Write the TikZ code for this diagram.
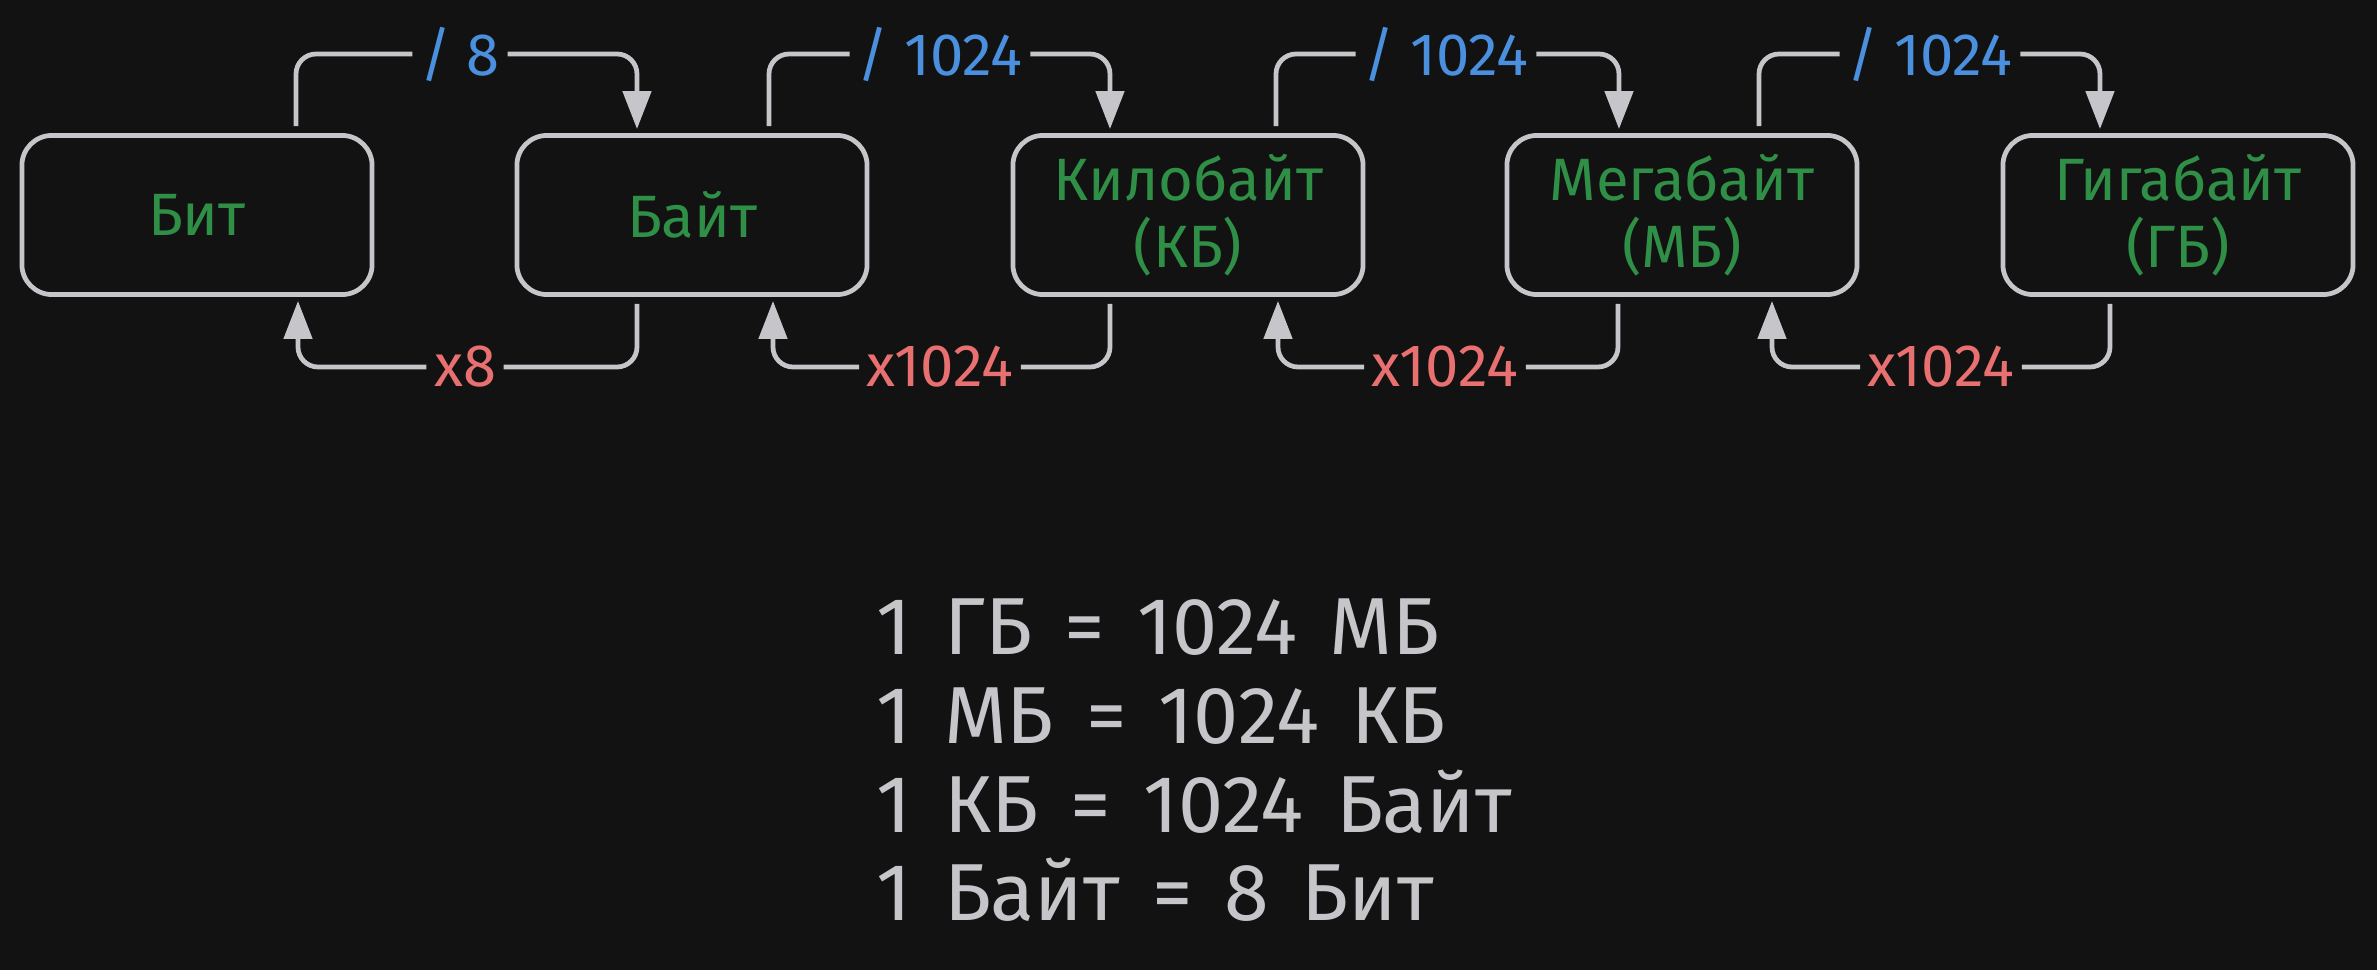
\documentclass[tikz,border=0pt]{standalone}
\usepackage{fontspec}
\setmainfont{Fira Sans}
\usetikzlibrary{arrows.meta,positioning}

\definecolor{bgdark}{HTML}{121212}
\definecolor{edgegray}{HTML}{C6C6CA}
\definecolor{unitgreen}{HTML}{2F8F46}
\definecolor{divblue}{HTML}{4A90DE}
\definecolor{mulred}{HTML}{E87070}
\newcommand{\rulesfont}{\fontsize{23}{25}\selectfont\spaceskip=0.4em\relax}

\begin{document}
\begin{tikzpicture}[x=0.01cm,y=-0.01cm]

    \tikzset{unitbox/.style={draw=edgegray,line width=1.35pt,rounded corners=0.3cm,
        minimum width=3.5cm,minimum height=1.59cm,align=center,text=unitgreen,
        font=\fontsize{17}{19}\selectfont}}
    \tikzset{divlabel/.style={text=divblue,inner sep=2pt,font=\fontsize{17}{19}\selectfont}}
    \tikzset{mullabel/.style={text=mulred,inner sep=2pt,font=\fontsize{17}{19}\selectfont}}
    \tikzset{ruletext/.style={anchor=base west,inner sep=0pt,text=edgegray,font=\rulesfont}}

    \fill[bgdark] (0,0) rectangle (2377,970);
    \useasboundingbox (0,0) rectangle (2377,970);

    \node[unitbox] (bit) at ( 197,215) {Бит};
    \node[unitbox] (byte) at ( 692,215) {Байт};
    \node[unitbox] (kb) at (1188,215) {Килобайт\\(КБ)};
    \node[unitbox] (mb) at (1682,215) {Мегабайт\\(МБ)};
    \node[unitbox] (gb) at (2178,215) {Гигабайт\\(ГБ)};

    \node[divlabel] (d8) at ( 460,54) {/ 8};
    \node[divlabel] (d1) at ( 940,54) {/ 1024};
    \node[divlabel] (d2) at (1446,54) {/ 1024};
    \node[divlabel] (d3) at (1930,54) {/ 1024};

    \node[mullabel] (m8) at ( 465,367) {x8};
    \node[mullabel] (m1) at ( 940,367) {x1024};
    \node[mullabel] (m2) at (1445,367) {x1024};
    \node[mullabel] (m3) at (1941,367) {x1024};

    \begin{scope}[every path/.style={draw=edgegray,line width=1.35pt,rounded corners=0.2cm}]
        % to the bigger unit
        \draw ([shift={(99,-7)}]bit.north) |- (d8.west);
        \draw[-{Triangle[length=0.38cm,width=0.28cm]}] (d8.east) -| ([shift={(-55,-4)}]byte.north);
        \draw ([shift={(77,-7)}]byte.north) |- (d1.west);
        \draw[-{Triangle[length=0.38cm,width=0.28cm]}] (d1.east) -| ([shift={(-78,-4)}]kb.north);
        \draw ([shift={(88,-7)}]kb.north) |- (d2.west);
        \draw[-{Triangle[length=0.38cm,width=0.28cm]}] (d2.east) -| ([shift={(-63,-4)}]mb.north);
        \draw ([shift={(77,-7)}]mb.north) |- (d3.west);
        \draw[-{Triangle[length=0.38cm,width=0.28cm]}] (d3.east) -| ([shift={(-78,-4)}]gb.north);

        % back to the smaller unit
        \draw ([shift={(-55,7)}]byte.south) |- (m8.east);
        \draw[-{Triangle[length=0.38cm,width=0.28cm]}] (m8.west) -| ([shift={(101,4)}]bit.south);
        \draw ([shift={(-78,7)}]kb.south) |- (m1.east);
        \draw[-{Triangle[length=0.38cm,width=0.28cm]}] (m1.west) -| ([shift={(81,4)}]byte.south);
        \draw ([shift={(-64,7)}]mb.south) |- (m2.east);
        \draw[-{Triangle[length=0.38cm,width=0.28cm]}] (m2.west) -| ([shift={(90,4)}]kb.south);
        \draw ([shift={(-68,7)}]gb.south) |- (m3.east);
        \draw[-{Triangle[length=0.38cm,width=0.28cm]}] (m3.west) -| ([shift={(90,4)}]mb.south);
    \end{scope}

    \node[ruletext] (r1) at (876,655) {1 ГБ = 1024 МБ};
    \node[ruletext] (r2) at (876,743) {1 МБ = 1024 КБ};
    \node[ruletext] (r3) at (876,832) {1 КБ = 1024 Байт};
    \node[ruletext] (r4) at (876,920) {1 Байт = 8 Бит};

\end{tikzpicture}
\end{document}
